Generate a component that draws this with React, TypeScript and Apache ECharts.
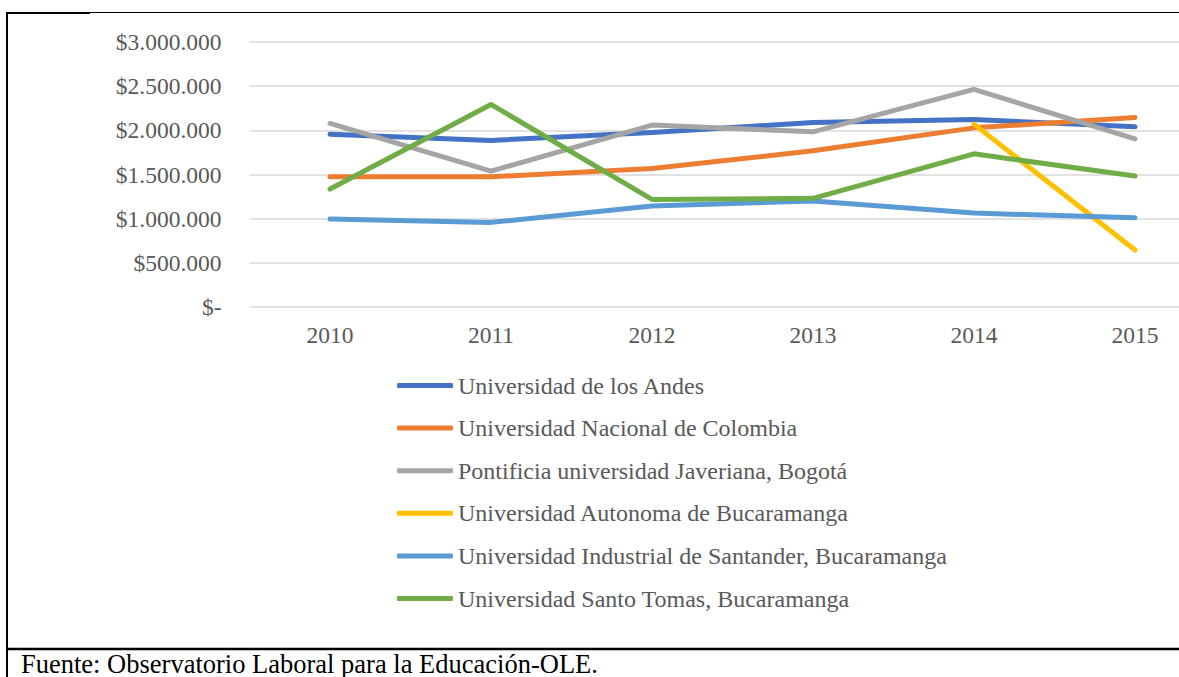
import React, { useEffect, useRef } from "react";
import * as echarts from "echarts";

const years = ["2010", "2011", "2012", "2013", "2014", "2015"];
const seriesNames = [
  "Universidad de los Andes",
  "Universidad Nacional de Colombia",
  "Pontificia universidad Javeriana, Bogotá",
  "Universidad Autonoma de Bucaramanga",
  "Universidad Industrial de Santander, Bucaramanga",
  "Universidad Santo Tomas, Bucaramanga",
];
const andes = [1957000, 1886000, 1976000, 2089000, 2123000, 2040000];
const nacional = [1474000, 1474000, 1569000, 1768000, 2028000, 2146000];
const javeriana = [2078000, 1538000, 2059000, 1983000, 2463000, 1904000];
const autonoma = [null, null, null, null, 2070000, 645000];
const industrial = [995000, 958000, 1143000, 1200000, 1063000, 1010000];
const santoTomas = [1335000, 2293000, 1218000, 1230000, 1734000, 1482000];
const colors = ["#4472C4", "#ED7D31", "#A5A5A5", "#FFC000", "#5B9BD5", "#70AD47"];
const sourceNote = "Fuente: Observatorio Laboral para la Educación-OLE.";

const FONT = "Liberation Serif";

function fmt(v: number): string {
  if (v === 0) return "$-";
  return "$" + String(v).replace(/\B(?=(\d{3})+(?!\d))/g, ".");
}

export default function App() {
  const ref = useRef<HTMLDivElement>(null);
  useEffect(() => {
    if (!ref.current) return;
    const chart = echarts.init(ref.current, null, { renderer: "svg" });
    const allData = [andes, nacional, javeriana, autonoma, industrial, santoTomas];
    chart.setOption({
      animation: false,
      backgroundColor: "#ffffff",
      grid: { left: 249.5, top: 42, width: 966, height: 265, containLabel: false },
      xAxis: {
        type: "category",
        data: years,
        boundaryGap: true,
        axisLine: { show: false },
        axisTick: { show: false },
        axisLabel: { color: "#595959", fontFamily: FONT, fontSize: 23.5, margin: 16 },
      },
      yAxis: {
        type: "value",
        min: 0,
        max: 3000000,
        interval: 500000,
        axisLine: { show: false },
        axisTick: { show: false },
        splitLine: { lineStyle: { color: "#D9D9D9", width: 1.5 } },
        axisLabel: {
          color: "#595959",
          fontFamily: FONT,
          fontSize: 23.5,
          margin: 28,
          formatter: (v: number) => fmt(v),
        },
      },
      legend: {
        orient: "vertical",
        left: 397,
        top: 373.5,
        padding: 0,
        itemWidth: 56,
        itemHeight: 5,
        itemGap: 18.6,
        icon: "roundRect",
        textStyle: { color: "#595959", fontFamily: FONT, fontSize: 24, lineHeight: 23 },
        data: seriesNames,
      },
      series: seriesNames.map((name, i) => ({
        name,
        type: "line",
        data: allData[i],
        symbol: "none",
        showSymbol: false,
        connectNulls: false,
        clip: true,
        lineStyle: { color: colors[i], width: 5, cap: "round", join: "round" },
        itemStyle: { color: colors[i] },
      })),
      graphic: [
        { type: "line", shape: { x1: 7, y1: 12, x2: 7, y2: 677 }, style: { stroke: "#000", lineWidth: 2 } },
        { type: "line", shape: { x1: 6, y1: 13, x2: 90, y2: 13 }, style: { stroke: "#000", lineWidth: 2 } },
        { type: "line", shape: { x1: 90, y1: 12.5, x2: 1179, y2: 12.5 }, style: { stroke: "#000", lineWidth: 1 } },
        { type: "line", shape: { x1: 6, y1: 649, x2: 1179, y2: 649 }, style: { stroke: "#000", lineWidth: 2.3 } },
        {
          type: "text",
          left: 21,
          top: 650,
          style: { text: sourceNote, fill: "#000", fontFamily: FONT, fontSize: 26.5, lineHeight: 26 },
        },
      ],
    });
    return () => chart.dispose();
  }, []);
  return (
    <div style={{ position: "fixed", left: 0, top: 0, width: 1179, height: 677, overflow: "hidden", background: "#fff" }}>
      <div ref={ref} style={{ position: "absolute", left: 0, top: 0, width: 1260, height: 677 }} />
    </div>
  );
}
